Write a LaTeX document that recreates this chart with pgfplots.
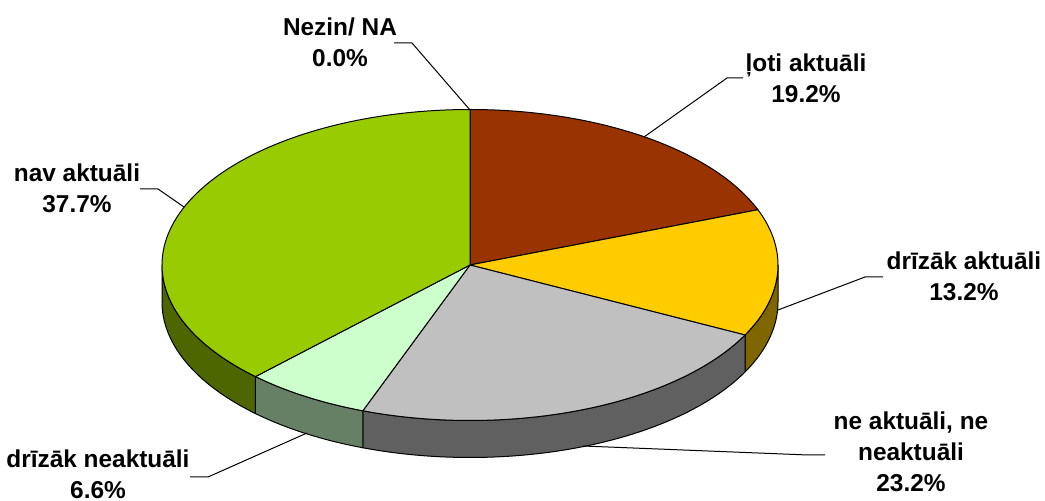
\documentclass[border=0pt]{standalone}
\usepackage{pgfplots}
\pgfplotsset{compat=1.18}
\usepackage{fontspec}
\setmainfont{Liberation Sans}

\definecolor{cRed}{RGB}{153,51,0}
\definecolor{cYel}{RGB}{255,204,0}
\definecolor{cGry}{RGB}{192,192,192}
\definecolor{cLgr}{RGB}{204,255,204}
\definecolor{cGrn}{RGB}{153,204,0}
\definecolor{cYelS}{RGB}{128,102,0}
\definecolor{cGryS}{RGB}{96,96,96}
\definecolor{cLgrS}{RGB}{102,128,102}
\definecolor{cGrnS}{RGB}{77,102,0}

% data (percent)
\def\vNA{0.0}
\def\vA{19.2}
\def\vB{13.2}
\def\vC{23.2}
\def\vD{6.6}
\def\vE{37.7}
\pgfmathsetmacro\tot{\vNA+\vA+\vB+\vC+\vD+\vE}
\pgfmathsetmacro\kA{90-360*\vNA/\tot}
\pgfmathsetmacro\kB{\kA-360*\vA/\tot}
\pgfmathsetmacro\kC{\kB-360*\vB/\tot}
\pgfmathsetmacro\kD{\kC-360*\vC/\tot}
\pgfmathsetmacro\kE{\kD-360*\vD/\tot}
\pgfmathsetmacro\kF{\kE-360*\vE/\tot}

\def\cx{470}
\def\cy{265}
\def\rx{308}
\def\ry{155.5}
\def\dd{37}

\newcommand\topsector[3]{%
 \addplot[fill=#3, draw=black, line width=0.5pt, line join=round, domain=0:1.2, samples=121]
   ({\cx+(x<=1.05)*\rx*cos(#1+(#2-#1)*min(x,1))},
    {\cy-(x<=1.05)*\ry*sin(#1+(#2-#1)*min(x,1))}) -- cycle;
}
\newcommand\sidepiece[3]{%
 \addplot[fill=#3, draw=black, line width=0.5pt, line join=round, domain=0:2.1, samples=211]
   ({\cx+\rx*cos(#1+(#2-#1)*min(x,1)-(#2-#1)*max(0,x-1.1))},
    {\cy-\ry*sin(#1+(#2-#1)*min(x,1)-(#2-#1)*max(0,x-1.1))+\dd*(x>1.05)}) -- cycle;
}
\newcommand\lbl{\bfseries\fontsize{12.2}{15.5}\selectfont}

\begin{document}
\begin{tikzpicture}
\begin{axis}[hide axis, scale only axis, width=522.5pt, height=250.5pt,
  xmin=0, xmax=1045, ymin=0, ymax=501, y dir=reverse, clip=false]
\path (rel axis cs:0,0) rectangle (rel axis cs:1,1);
% sides (front half)
\sidepiece{0}{\kC}{cYelS}
\sidepiece{\kC}{\kD}{cGryS}
\sidepiece{\kD}{\kE}{cLgrS}
\sidepiece{\kE}{-180}{cGrnS}
% top faces
\topsector{\kA}{\kB}{cRed}
\topsector{\kB}{\kC}{cYel}
\topsector{\kC}{\kD}{cGry}
\topsector{\kD}{\kE}{cLgr}
\topsector{\kE}{\kF}{cGrn}
% leader lines
\draw[line width=0.5pt] (axis cs:394,43) -- (axis cs:412,43) -- (axis cs:470,110);
\draw[line width=0.5pt] (axis cs:743,78) -- (axis cs:727,78) -- (axis cs:644,137);
\draw[line width=0.5pt] (axis cs:883,277) -- (axis cs:865,277) -- (axis cs:778,310);
\draw[line width=0.5pt] (axis cs:825,455) -- (axis cs:808,455) -- (axis cs:583,446);
\draw[line width=0.5pt] (axis cs:190,477) -- (axis cs:208,477) -- (axis cs:307,433);
\draw[line width=0.5pt] (axis cs:140,189) -- (axis cs:158,189) -- (axis cs:184,207);
% labels
\node[font=\lbl, align=center, inner sep=0] at (axis cs:340,42) {Nezin/ NA\\0.0\%};
\node[font=\lbl, align=center, inner sep=0] at (axis cs:806,78) {ļoti aktuāli\\19.2\%};
\node[font=\lbl, align=center, inner sep=0] at (axis cs:964,276) {drīzāk aktuāli\\13.2\%};
\node[font=\lbl, align=center, inner sep=0] at (axis cs:911,452) {ne aktuāli, ne\\neaktuāli\\23.2\%};
\node[font=\lbl, align=center, inner sep=0] at (axis cs:98,474) {drīzāk neaktuāli\\6.6\%};
\node[font=\lbl, align=center, inner sep=0] at (axis cs:77,188) {nav aktuāli\\37.7\%};
\end{axis}
\end{tikzpicture}
\end{document}
